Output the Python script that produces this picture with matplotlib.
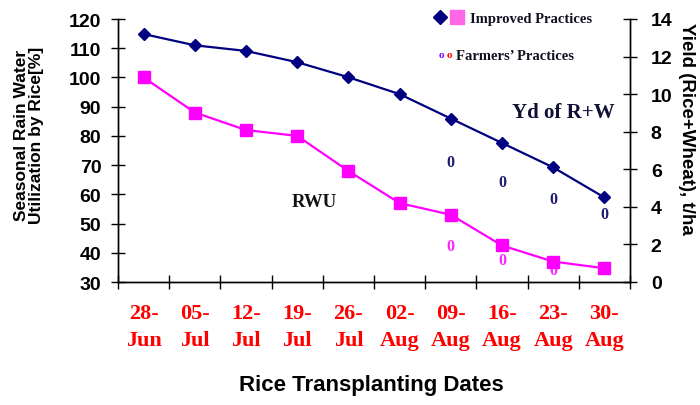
import matplotlib
matplotlib.use("Agg")
import matplotlib.pyplot as plt
from matplotlib.lines import Line2D
from matplotlib import font_manager as fm

# ---------------- data ----------------
dates = ["28-\nJun", "05-\nJul", "12-\nJul", "19-\nJul", "26-\nJul",
         "02-\nAug", "09-\nAug", "16-\nAug", "23-\nAug", "30-\nAug"]
yield_improved = [13.2, 12.6, 12.3, 11.7, 10.9, 10.0, 8.7, 7.4, 6.1, 4.5]   # t/ha (right axis)
rwu_improved = [100, 88, 82, 80, 68, 57, 53, 42.5, 37, 34.7]              # % (left axis)
farm_idx = [6, 7, 8, 9]
yield_farmers = [6.4, 5.3, 4.4, 3.6]
rwu_farmers = [42.4, 37.5, 34, 34]
left_ticks = list(range(30, 121, 10))
right_ticks = list(range(0, 15, 2))

# ---------------- fonts ----------------
names = {f.name for f in fm.fontManager.ttflist}
narrow = "Liberation Sans Narrow" if "Liberation Sans Narrow" in names else "Liberation Sans"
tick_fs = 15 if narrow == "Liberation Sans Narrow" else 14
SANS = "Liberation Sans"
SERIF = "Liberation Serif"

NAVY = "#000080"
MAG = "#FF00FF"

fig = plt.figure(figsize=(7.0, 4.06), dpi=100)
W, H = 700, 406
L, R, T, B = 118, 630, 20, 283
ax = fig.add_axes([L / W, 1 - B / H, (R - L) / W, (B - T) / H])
ax2 = ax.twinx()

n = len(dates)
xs = list(range(n))

# left axis: RWU
ax.plot(xs, rwu_improved, color=MAG, lw=1.6, marker="s", ms=8.5, mec=MAG, mfc=MAG, zorder=3)
ax.set_ylim(30, 120)
ax.set_xlim(-0.5, n - 0.5)
ax.set_yticks(left_ticks)
# right axis: yield
ax2.plot(xs, yield_improved, color=NAVY, lw=1.6, marker="D", ms=6.2, mec=NAVY, mfc=NAVY, zorder=3)
ax2.set_ylim(0, 14)
ax2.set_yticks(right_ticks)

# farmers' practices as 'o' glyphs
fx = [xs[i] for i in farm_idx]
for x, y in zip(fx, yield_farmers):
    ax2.text(x, y, "0", color="#1c1c72", fontsize=11.5, fontweight="bold",
             family=SERIF, ha="center", va="center")
for x, y in zip(fx, rwu_farmers):
    ax.text(x, y, "0", color="#FF22FF", fontsize=11.5, fontweight="bold",
            family=SERIF, ha="center", va="center", zorder=2)

# spines
for a in (ax, ax2):
    a.spines["top"].set_visible(False)
    for s in ("left", "right", "bottom"):
        a.spines[s].set_linewidth(1.0)

# x ticks
ax.set_xticks([i - 0.5 for i in range(n + 1)], minor=False)
ax.set_xticklabels([""] * (n + 1))
ax.set_xticks(xs, minor=True)
ax.set_xticklabels(dates, minor=True, color="red", fontsize=16, fontweight="bold",
                   family=SERIF, linespacing=1.5)
ax.tick_params(axis="x", which="major", direction="inout", length=10, width=1)
ax.tick_params(axis="x", which="minor", length=0, pad=15)

ax.tick_params(axis="y", direction="inout", length=10, width=1, pad=7)
ax2.tick_params(axis="y", direction="inout", length=10, width=1, pad=10)
for lab in ax.get_yticklabels():
    lab.set_fontfamily(narrow); lab.set_fontweight("bold"); lab.set_fontsize(tick_fs)
for lab in ax2.get_yticklabels():
    lab.set_fontfamily(narrow); lab.set_fontweight("bold"); lab.set_fontsize(tick_fs)

# annotations
ax2.text(7.2, 9.05, "Yd of R+W", fontsize=15, fontweight="bold", family=SERIF,
         color="#111133", ha="left", va="center")
ax.text(2.9, 57.4, "RWU", fontsize=13.5, fontweight="bold", family=SERIF,
        color="#111111", ha="left", va="center")

# axis titles
fig.text(29 / W, 1 - 135 / H, "Seasonal Rain Water\nUtilization by Rice[%]", rotation=90,
         ha="center", va="center", fontsize=12.5, fontweight="bold", family=SANS,
         multialignment="center", linespacing=1.05)
fig.text(686 / W, 1 - 129 / H, "Yield (Rice+Wheat), t/ha", rotation=-90,
         ha="center", va="center", fontsize=13.5, fontweight="bold", family=SANS)
fig.text(371 / W, 1 - 386 / H, "Rice Transplanting Dates", ha="center", va="center",
         fontsize=16, fontweight="bold", family=SANS)

# legend (manual)
def fpt(px, py):
    return px / W, 1 - py / H

for (px, py, mk, ms, col) in [(440, 18, "D", 7.2, NAVY), (457, 18, "s", 9.5, "#FF66E8")]:
    x0, y0 = fpt(px, py)
    fig.add_artist(Line2D([x0], [y0], transform=fig.transFigure, marker=mk, ms=ms,
                          color=col, ls=""))
fig.text(*fpt(470, 19), "Improved Practices", ha="left", va="center", fontsize=10.5,
         fontweight="bold", family=SERIF, color="#111122")
fig.text(*fpt(441, 56), "o", ha="center", va="center", fontsize=8, fontweight="bold",
         family=SERIF, color="#7F00FF")
fig.text(*fpt(449, 56), "o", ha="center", va="center", fontsize=8, fontweight="bold",
         family=SERIF, color="#FF0000")
fig.text(*fpt(456, 57), "Farmers’ Practices", ha="left", va="center", fontsize=10.5,
         fontweight="bold", family=SERIF, color="#111122")

fig.savefig("out.png", dpi=100)
